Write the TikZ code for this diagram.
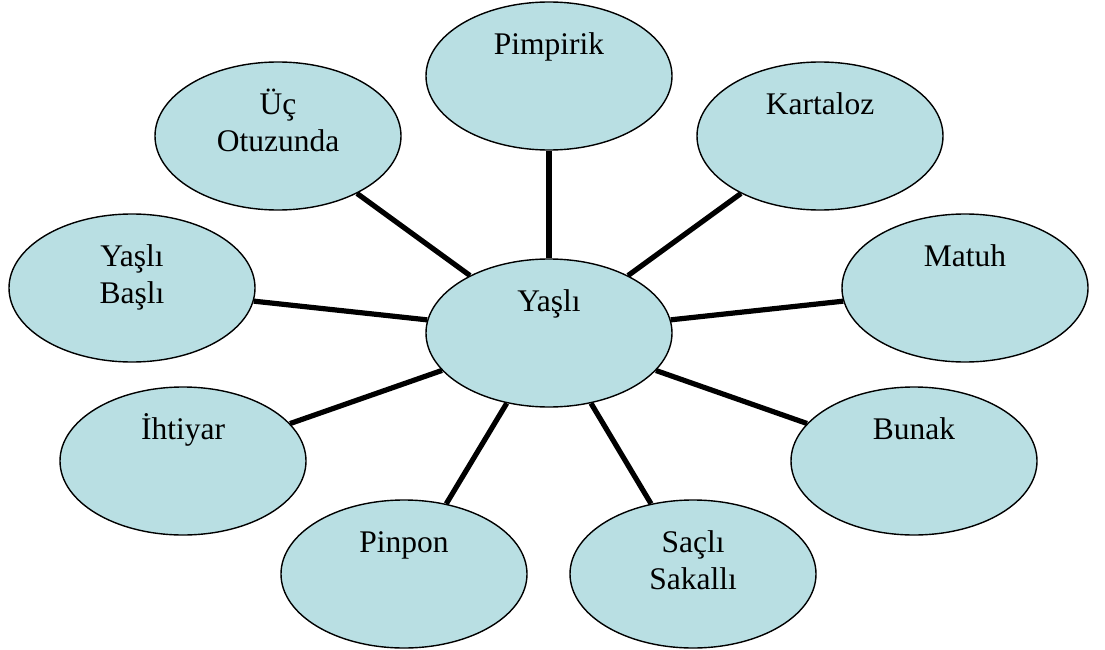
\documentclass[tikz,border=0pt]{standalone}
\usepackage{fontspec}
\setmainfont{Liberation Serif}
\usetikzlibrary{shapes.geometric, backgrounds}
\definecolor{bubblefill}{HTML}{B9DFE3}

\begin{document}
\begin{tikzpicture}[x=1pt, y=-1pt,
  bubble/.style={ellipse, draw=black, line width=1.4pt, fill=bubblefill,
                 minimum width=246pt, minimum height=148pt, inner sep=0pt,
                 align=center, text height=26pt, text depth=69pt,
                 font=\fontsize{31.5}{36.5}\selectfont},
  twoline/.style={text height=62.5pt, text depth=32.5pt},
  spoke/.style={draw=black, line width=5.2pt}
]
\useasboundingbox (0,0) rectangle (1105,650);

% ---- hub ----------------------------------------------------------------
\node[bubble] (yasli) at (549,333) {Yaşlı};

% ---- ring ---------------------------------------------------------------
\node[bubble] (pimpirik)  at (549,76)  {Pimpirik};
\node[bubble] (kartaloz)  at (820,136) {Kartaloz};
\node[bubble] (matuh)     at (965,288) {Matuh};
\node[bubble] (bunak)     at (914,461) {Bunak};
\node[bubble, twoline] (sacli) at (693,574) {Saçlı\\Sakallı};
\node[bubble] (pinpon)    at (404,574) {Pinpon};
\node[bubble] (ihtiyar)   at (183,461) {İhtiyar};
\node[bubble, twoline] (yaslibasli) at (132,288) {Yaşlı\\Başlı};
\node[bubble, twoline] (ucotuz) at (278,136) {Üç\\Otuzunda};

% ---- spokes -------------------------------------------------------------
\begin{scope}[on background layer]
\foreach \n in {pimpirik, kartaloz, matuh, bunak, sacli, pinpon, ihtiyar, yaslibasli, ucotuz}
  \draw[spoke] (yasli) -- (\n);
\end{scope}
\end{tikzpicture}
\end{document}
